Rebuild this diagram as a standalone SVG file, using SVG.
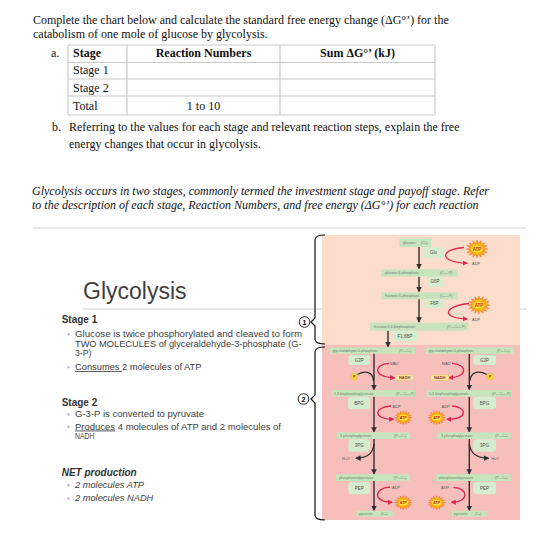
<svg xmlns="http://www.w3.org/2000/svg" width="551" height="537" viewBox="0 0 551 537">
<style>
.serif{font-family:"Liberation Serif","Times New Roman",serif;font-size:12px;fill:#111}
.b{font-weight:bold}
.slide{font-family:"Liberation Sans",Arial,sans-serif;fill:#404040}
.bl{font-size:8.6px}
.bx{fill:#c7e4bd}
.lb{fill:#d6ecce}
.bt{font-family:"Liberation Sans",Arial,sans-serif;font-size:3.6px;fill:#6d7d6d}
.lt{font-family:"Liberation Sans",Arial,sans-serif;font-size:4.5px;fill:#4a4a4a;text-anchor:middle}
.sm{font-family:"Liberation Sans",Arial,sans-serif;font-size:4px;fill:#555}
.blk{fill:none;stroke:#2f2f2f;stroke-width:1.4}
.red{fill:none;stroke:#e0264f;stroke-width:1.3}
.tbl{stroke:#c9c9c9;stroke-width:1.2}
.bul{fill:#c5b2d3}
</style>
<defs>
<marker id="ab" viewBox="0 0 6 6" refX="5" refY="3" markerWidth="4" markerHeight="4" orient="auto"><path d="M0,0 L6,3 L0,6 z" fill="#2f2f2f"/></marker>
<marker id="ar" viewBox="0 0 6 6" refX="5" refY="3" markerWidth="4" markerHeight="4" orient="auto"><path d="M0,0 L6,3 L0,6 z" fill="#e0264f"/></marker>
<radialGradient id="sg"><stop offset="0" stop-color="#ffe600"/><stop offset="0.55" stop-color="#fdb515"/><stop offset="1" stop-color="#f47b20"/></radialGradient>
<g id="atp">
<polygon transform="scale(1,0.82)" fill="url(#sg)" stroke="#f26a21" stroke-width="0.4" points="11,0 6.87,1.37 10.16,4.21 5.82,3.89 7.78,7.78 3.89,5.82 4.21,10.16 1.37,6.87 0,11 -1.37,6.87 -4.21,10.16 -3.89,5.82 -7.78,7.78 -5.82,3.89 -10.16,4.21 -6.87,1.37 -11,0 -6.87,-1.37 -10.16,-4.21 -5.82,-3.89 -7.78,-7.78 -3.89,-5.82 -4.21,-10.16 -1.37,-6.87 0,-11 1.37,-6.87 4.21,-10.16 3.89,-5.82 7.78,-7.78 5.82,-3.89 10.16,-4.21 6.87,-1.37"/>
<ellipse rx="6" ry="3.6" fill="#ffe23a" stroke="#f39a1e" stroke-width="0.3"/>
<text y="1.6" text-anchor="middle" font-family="Liberation Sans,Arial,sans-serif" font-size="4.5" font-weight="bold" fill="#b3261e">ATP</text>
</g>
</defs>
<rect width="551" height="537" fill="#fff"/>

<!-- header text -->
<g id="question">
<text class="serif" x="33" y="23.5">Complete the chart below and calculate the standard free energy change (ΔG°’) for the</text>
<text class="serif" x="33" y="37.5">catabolism of one mole of glucose by glycolysis.</text>
</g>
<g id="table">
<text class="serif" x="51" y="56.5">a.</text>
<line class="tbl" x1="68" y1="45" x2="435" y2="45"/>
<line class="tbl" x1="68" y1="62.5" x2="435" y2="62.5" stroke-width="1.6"/>
<line class="tbl" x1="68" y1="79" x2="435" y2="79" stroke-width="1.6"/>
<line class="tbl" x1="68" y1="96" x2="435" y2="96" stroke-width="1.6"/>
<line class="tbl" x1="68" y1="115" x2="435" y2="115"/>
<line class="tbl" x1="68" y1="45" x2="68" y2="115"/>
<line class="tbl" x1="127" y1="45" x2="127" y2="115"/>
<line class="tbl" x1="280" y1="45" x2="280" y2="115"/>
<line class="tbl" x1="435" y1="45" x2="435" y2="115"/>
<text class="serif b" x="73" y="57">Stage</text>
<text class="serif b" x="203.5" y="57" text-anchor="middle">Reaction Numbers</text>
<text class="serif b" x="357.5" y="57" text-anchor="middle">Sum ΔG°’ (kJ)</text>
<text class="serif" x="73" y="74">Stage 1</text>
<text class="serif" x="73" y="91.5">Stage 2</text>
<text class="serif" x="73" y="110">Total</text>
<text class="serif" x="203.5" y="110" text-anchor="middle">1 to 10</text>
</g>
<g id="partb">
<text class="serif" x="52" y="131">b.</text>
<text class="serif" x="69" y="131">Referring to the values for each stage and relevant reaction steps, explain the free</text>
<text class="serif" x="69" y="147.5">energy changes that occur in glycolysis.</text>
</g>
<g id="intro">
<text class="serif" x="32" y="195" font-style="italic" fill="#333">Glycolysis occurs in two stages, commonly termed the investment stage and payoff stage. Refer</text>
<text class="serif" x="32" y="209" font-style="italic" fill="#333">to the description of each stage, Reaction Numbers, and free energy (ΔG°’) for each reaction</text>
</g>

<!-- slide -->
<line x1="33" y1="228" x2="526" y2="228" stroke="#d6d6d6" stroke-width="1"/>
<line x1="83" y1="309" x2="527" y2="309" stroke="#c4c4c4" stroke-width="0.8"/>
<g id="slide-text" class="slide">
<text x="83" y="299" font-size="23" fill="#3f3f3f">Glycolysis</text>
<text x="61.7" y="322.7" font-size="10" font-weight="bold" fill="#333">Stage 1</text>
<circle class="bul" cx="68.5" cy="334.3" r="1.2"/>
<text class="bl" x="75" y="337" textLength="227" lengthAdjust="spacingAndGlyphs">Glucose is twice phosphorylated and cleaved to form</text>
<text class="bl" x="75" y="346.5" textLength="226.5" lengthAdjust="spacingAndGlyphs">TWO MOLECULES of glyceraldehyde-3-phosphate (G-</text>
<text class="bl" x="75" y="356" textLength="16.5" lengthAdjust="spacingAndGlyphs">3-P)</text>
<circle class="bul" cx="68.5" cy="367.2" r="1.2"/>
<text class="bl" x="75" y="370" textLength="126.5" lengthAdjust="spacingAndGlyphs"><tspan text-decoration="underline">Consumes </tspan>2 molecules of ATP</text>
<text x="61.7" y="406" font-size="10" font-weight="bold" fill="#333">Stage 2</text>
<circle class="bul" cx="68.5" cy="414.5" r="1.2"/>
<text class="bl" x="75" y="417.3" textLength="129" lengthAdjust="spacingAndGlyphs">G-3-P is converted to pyruvate</text>
<circle class="bul" cx="68.5" cy="426.7" r="1.2"/>
<text class="bl" x="75" y="429.5" textLength="206" lengthAdjust="spacingAndGlyphs"><tspan text-decoration="underline">Produces</tspan> 4 molecules of ATP and 2 molecules of</text>
<text class="bl" x="75" y="439" textLength="19.3" lengthAdjust="spacingAndGlyphs">NADH</text>
<text x="61.7" y="476" font-size="10" font-weight="bold" font-style="italic" fill="#333">NET production</text>
<circle class="bul" cx="68.5" cy="485.2" r="1.2"/>
<text class="bl" x="75" y="488" font-style="italic" textLength="69" lengthAdjust="spacingAndGlyphs">2 molecules ATP</text>
<circle class="bul" cx="68.5" cy="498.5" r="1.2"/>
<text class="bl" x="75" y="501.3" font-style="italic" textLength="78.3" lengthAdjust="spacingAndGlyphs">2 molecules NADH</text>
</g>

<!-- backgrounds -->
<rect x="322" y="235" width="198" height="110" fill="#fcdccb"/>
<rect x="322" y="345" width="198" height="175" fill="#f6bfbb"/>

<!-- braces -->
<g id="brace1">
<path d="M325,235 Q315,235 315,240 V318 L311,322 L315,326 V339 Q315,344 325,344" fill="none" stroke="#111" stroke-width="1.2"/>
<circle cx="304.5" cy="322" r="5.3" fill="#fff" stroke="#111" stroke-width="0.9"/>
<text x="304.5" y="324.6" text-anchor="middle" font-family="Liberation Sans,Arial,sans-serif" font-size="7" font-weight="bold">1</text>
</g>
<g id="brace2">
<path d="M325,347 Q315,347 315,352 V395 L311,399 L315,403 V515 Q315,520 325,520" fill="none" stroke="#111" stroke-width="1.2"/>
<circle cx="303.5" cy="399" r="5.3" fill="#fff" stroke="#111" stroke-width="0.9"/>
<text x="303.5" y="401.6" text-anchor="middle" font-family="Liberation Sans,Arial,sans-serif" font-size="7" font-weight="bold">2</text>
</g>

<!-- connectors -->
<g id="connectors">
<line class="blk" x1="419" y1="247" x2="419" y2="268.5" marker-end="url(#ab)"/>
<line class="blk" x1="419" y1="276.7" x2="419" y2="291.5" marker-end="url(#ab)"/>
<line class="blk" x1="419" y1="299" x2="419" y2="322" marker-end="url(#ab)"/>
<line class="blk" x1="388" y1="330.7" x2="388" y2="346.5" marker-end="url(#ab)"/>
<path class="red" d="M464,247.5 C441,249 437,262 467,263.3" marker-end="url(#ar)"/>
<path class="red" d="M469,303.5 C444,306 440,318 467,319" marker-end="url(#ar)"/>
<line class="blk" x1="374" y1="353.5" x2="374" y2="389.5" marker-end="url(#ab)"/>
<line class="blk" x1="469.3" y1="353.5" x2="469.3" y2="389.5" marker-end="url(#ab)"/>
<path class="blk" d="M357.5,374.5 C366,370 373,372 373.6,381" stroke-width="1.2"/>
<path class="blk" d="M486.8,374.5 C478,370 471,372 469.7,381" stroke-width="1.2"/>
<path class="red" d="M389,363.3 C374,364 372,377 394.5,377.7" marker-end="url(#ar)"/>
<path class="red" d="M452,363.3 C467,364 469,377 449,377.7" marker-end="url(#ar)"/>
<line class="blk" x1="374" y1="396.7" x2="374" y2="431.8" marker-end="url(#ab)"/>
<line class="blk" x1="469.3" y1="396.7" x2="469.3" y2="431.8" marker-end="url(#ab)"/>
<path class="red" d="M391,406 C374,407 372,419 393.5,419.3" marker-end="url(#ar)"/>
<path class="red" d="M452,406 C467,407 469,419 447,419.3" marker-end="url(#ar)"/>
<line class="blk" x1="374" y1="439" x2="374" y2="473.8" marker-end="url(#ab)"/>
<line class="blk" x1="469.3" y1="439" x2="469.3" y2="473.8" marker-end="url(#ab)"/>
<path class="blk" d="M374,444 C373,455 366,458 356,458.3" stroke-width="1.2" marker-end="url(#ab)"/>
<path class="blk" d="M469.3,444 C470.5,455 478,458 488.5,458.3" stroke-width="1.2" marker-end="url(#ab)"/>
<line class="blk" x1="374" y1="481" x2="374" y2="510.3" marker-end="url(#ab)"/>
<line class="blk" x1="469.3" y1="481" x2="469.3" y2="510.3" marker-end="url(#ab)"/>
<path class="red" d="M390,487 C374,488 372,502 392,502.3" marker-end="url(#ar)"/>
<path class="red" d="M453.5,487.3 C468,488 470,502 451.5,502.3" marker-end="url(#ar)"/>
</g>

<!-- stage 1 nodes -->
<g id="glucose"><rect class="bx" x="399" y="239" width="32" height="8"/><text class="bt" x="403" y="244.4">glucose</text><text class="bt" x="421" y="244.4">(C₆)</text></g>
<g id="glu-label"><rect class="lb" x="423" y="247" width="21" height="11" rx="3"/><text class="lt" x="433.5" y="254.2">Glu</text></g>
<g id="atp1"><use href="#atp" transform="translate(477,249)"/></g>
<text class="sm" x="472" y="265">ADP</text>
<g id="g6p"><rect class="bx" x="381" y="269.3" width="77" height="7.4"/><text class="bt" x="385" y="274.4">glucose-6-phosphate</text><text class="bt" x="440" y="274.4">(C₆—P)</text></g>
<g id="g6p-label"><rect class="lb" x="426.7" y="276.7" width="16.6" height="10" rx="3"/><text class="lt" x="435" y="283.3">G6P</text></g>
<g id="f6p"><rect class="bx" x="381" y="292.3" width="77" height="7"/><text class="bt" x="385" y="297.2">fructose-6-phosphate</text><text class="bt" x="440" y="297.2">(C₆—P)</text></g>
<g id="f6p-label"><rect class="lb" x="424.3" y="299" width="20" height="9.3" rx="3"/><text class="lt" x="434.3" y="305.3">F6P</text></g>
<g id="atp2"><use href="#atp" transform="translate(479,305)"/></g>
<text class="sm" x="472" y="321">ADP</text>
<g id="f16bp"><rect class="bx" x="370" y="322.7" width="98.3" height="8"/><text class="bt" x="374" y="328.2">fructose 1,6-bisphosphate</text><text class="bt" x="447" y="328.2">(P—C₆—P)</text></g>
<g id="f16bp-label"><rect class="lb" x="392.7" y="331" width="24.6" height="10" rx="3"/><text class="lt" x="405" y="337.6">F1,6BP</text></g>

<!-- stage 2 nodes, left -->
<g id="g3p-l"><rect class="bx" x="330" y="347.3" width="85" height="6.5"/><text class="bt" x="332.5" y="351.9">glyceraldehyde-3-phosphate</text><text class="bt" x="399" y="351.9">(P—C₃)</text></g>
<g id="g3p-l-label"><rect class="lb" x="348.3" y="355" width="21.7" height="10" rx="3"/><text class="lt" x="359.2" y="361.6">G3P</text></g>
<g id="p-l"><circle cx="354.3" cy="376.7" r="3.5" fill="#f9d648" stroke="#e7b43a" stroke-width="0.5"/><text x="354.3" y="378.2" text-anchor="middle" font-family="Liberation Sans,Arial,sans-serif" font-size="4" font-weight="bold" fill="#7a4b00">P</text></g>
<text class="sm" x="389.5" y="364.5">NAD⁺</text>
<g id="nadh-l"><rect x="395.7" y="374.8" width="18" height="5.8" rx="1" fill="#fde6ae" stroke="#efb54c" stroke-width="0.5"/><text x="404.7" y="379.2" text-anchor="middle" font-family="Liberation Sans,Arial,sans-serif" font-size="4" font-weight="bold" fill="#8a3a14">NADH</text></g>
<g id="bpg-l"><rect class="bx" x="331.7" y="390" width="83.3" height="6.7"/><text class="bt" x="334" y="394.8">1,3-bisphosphoglycerate</text><text class="bt" x="396" y="394.8">(P—C₃—P)</text></g>
<g id="bpg-l-label"><rect class="lb" x="348" y="396.7" width="22" height="12.6" rx="3.5"/><text class="lt" x="359" y="404.5">BPG</text></g>
<text class="sm" x="392.5" y="407.5">ADP</text>
<g id="atp3"><use href="#atp" transform="translate(403.3,417.7) scale(0.8)"/></g>
<g id="3pg-l"><rect class="bx" x="336.7" y="432.3" width="73.3" height="6.7"/><text class="bt" x="340" y="437">3-phosphoglycerate</text><text class="bt" x="394" y="437">(P—C₃)</text></g>
<g id="3pg-l-label"><rect class="lb" x="348.3" y="439.3" width="21.7" height="12.4" rx="3.5"/><text class="lt" x="359.2" y="447">3PG</text></g>
<text class="sm" x="342" y="460">H₂O</text>
<g id="pep-l"><rect class="bx" x="336" y="474.3" width="74" height="6.7"/><text class="bt" x="339" y="479">phosphoenolpyruvate</text><text class="bt" x="394" y="479">(P—C₃)</text></g>
<g id="pep-l-label"><rect class="lb" x="348.3" y="481.7" width="21.7" height="12.6" rx="3.5"/><text class="lt" x="359.2" y="489.5">PEP</text></g>
<text class="sm" x="392" y="488.5">ADP</text>
<g id="atp5"><use href="#atp" transform="translate(403.3,502.7) scale(0.8)"/></g>
<g id="pyr-l"><rect class="bx" x="356.7" y="510.7" width="36" height="6"/><text class="bt" x="359" y="515">pyruvate</text><text class="bt" x="381" y="515">(C₃)</text></g>

<!-- stage 2 nodes, right -->
<g id="g3p-r"><rect class="bx" x="426" y="347.3" width="87.3" height="6.5"/><text class="bt" x="428.5" y="351.9">glyceraldehyde-3-phosphate</text><text class="bt" x="497" y="351.9">(P—C₃)</text></g>
<g id="g3p-r-label"><rect class="lb" x="473.3" y="355" width="22.7" height="10" rx="3"/><text class="lt" x="484.6" y="361.6">G3P</text></g>
<g id="p-r"><circle cx="490" cy="376.7" r="3.5" fill="#f9d648" stroke="#e7b43a" stroke-width="0.5"/><text x="490" y="378.2" text-anchor="middle" font-family="Liberation Sans,Arial,sans-serif" font-size="4" font-weight="bold" fill="#7a4b00">P</text></g>
<text class="sm" x="442" y="364.5">NAD⁺</text>
<g id="nadh-r"><rect x="430.7" y="374.8" width="18" height="5.8" rx="1" fill="#fde6ae" stroke="#efb54c" stroke-width="0.5"/><text x="439.7" y="379.2" text-anchor="middle" font-family="Liberation Sans,Arial,sans-serif" font-size="4" font-weight="bold" fill="#8a3a14">NADH</text></g>
<g id="bpg-r"><rect class="bx" x="426.7" y="390" width="85" height="6.7"/><text class="bt" x="429" y="394.8">1,3-bisphosphoglycerate</text><text class="bt" x="492" y="394.8">(P—C₃—P)</text></g>
<g id="bpg-r-label"><rect class="lb" x="473" y="396.7" width="23" height="12.6" rx="3.5"/><text class="lt" x="484.5" y="404.5">BPG</text></g>
<text class="sm" x="441.5" y="407.5">ADP</text>
<g id="atp4"><use href="#atp" transform="translate(436.7,417.7) scale(0.8)"/></g>
<g id="3pg-r"><rect class="bx" x="437.3" y="432.3" width="73.4" height="6.7"/><text class="bt" x="441" y="437">3-phosphoglycerate</text><text class="bt" x="495" y="437">(P—C₃)</text></g>
<g id="3pg-r-label"><rect class="lb" x="473.3" y="439.3" width="22.7" height="12.4" rx="3.5"/><text class="lt" x="484.6" y="447">3PG</text></g>
<text class="sm" x="491.5" y="460">H₂O</text>
<g id="pep-r"><rect class="bx" x="436" y="474.3" width="74.7" height="6.7"/><text class="bt" x="439" y="479">phosphoenolpyruvate</text><text class="bt" x="495" y="479">(P—C₃)</text></g>
<g id="pep-r-label"><rect class="lb" x="473.3" y="481.7" width="22.7" height="12.6" rx="3.5"/><text class="lt" x="484.6" y="489.5">PEP</text></g>
<text class="sm" x="441" y="488.5">ADP</text>
<g id="atp6"><use href="#atp" transform="translate(436.7,502.7) scale(0.8)"/></g>
<g id="pyr-r"><rect class="bx" x="451.7" y="510.7" width="35" height="6"/><text class="bt" x="454" y="515">pyruvate</text><text class="bt" x="475" y="515">(C₃)</text></g>
</svg>
